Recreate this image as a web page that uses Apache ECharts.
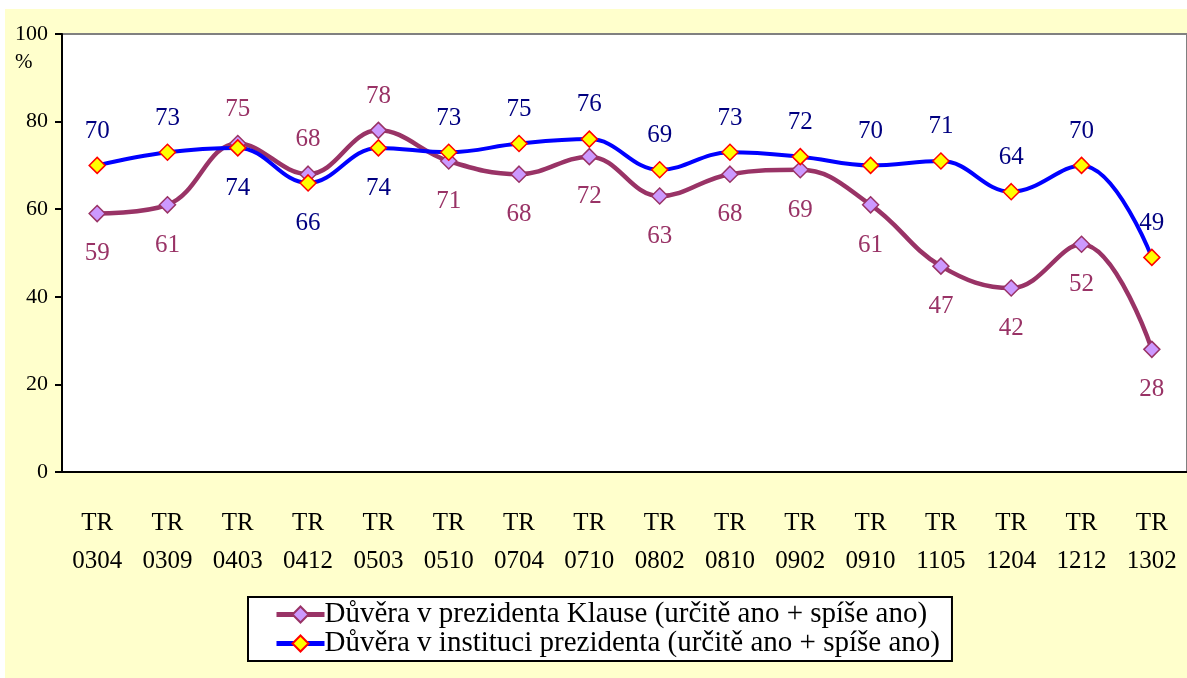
<!DOCTYPE html>
<html>
<head>
<meta charset="utf-8">
<script src="https://cdn.jsdelivr.net/npm/echarts@6/dist/echarts.min.js"></script>
<style>
  html, body { margin: 0; padding: 0; background: #fff; }
  #chart { width: 1187px; height: 678px; }
</style>
</head>
<body>
<div id="chart"></div>
<script>
// data
const categories = ['TR 0304', 'TR 0309', 'TR 0403', 'TR 0412', 'TR 0503', 'TR 0510', 'TR 0704', 'TR 0710',
  'TR 0802', 'TR 0810', 'TR 0902', 'TR 0910', 'TR 1105', 'TR 1204', 'TR 1212', 'TR 1302'];
const klausName = 'Důvěra v prezidenta Klause (určitě ano + spíše ano)';
const klausValues = [59, 61, 75, 68, 78, 71, 68, 72, 63, 68, 69, 61, 47, 42, 52, 28];
const instName = 'Důvěra v instituci prezidenta (určitě ano + spíše ano)';
const instValues = [70, 73, 74, 66, 74, 73, 75, 76, 69, 73, 72, 70, 71, 64, 70, 49];
const yTicks = [0, 20, 40, 60, 80, 100];

const serif = "'Liberation Serif', 'Times New Roman', serif";
const chart = echarts.init(document.getElementById('chart'));

// label goes above for the higher line, below for the lower one
function withLabels(values, other, higherWins) {
  return values.map(function (v, i) {
    const above = higherWins ? v >= other[i] : v > other[i];
    return { value: v, label: above ? { position: 'top', distance: 13 } : { position: 'bottom', distance: 19 } };
  });
}

chart.setOption({
  backgroundColor: '#fff',
  animation: false,
  textStyle: { fontFamily: serif },
  graphic: [
    { type: 'rect', z: -10, shape: { x: 5, y: 9, width: 1182, height: 669 }, style: { fill: '#FFFFCC' } },
    { type: 'text', left: 15, top: 52, style: { text: '%', font: '21px ' + serif, fill: '#000' } }
  ],
  grid: {
    left: 62, top: 34, width: 1131, height: 438,
    show: true, backgroundColor: '#fff', borderColor: '#808080', borderWidth: 2
  },
  legend: {
    orient: 'vertical',
    left: 248, top: 597,
    padding: [3, 12, 3, 26],
    itemGap: 0,
    itemWidth: 48, itemHeight: 20,
    backgroundColor: '#fff',
    borderColor: '#000', borderWidth: 2,
    lineStyle: { width: 5 },
    textStyle: { fontFamily: serif, fontSize: 29, lineHeight: 24, color: '#000', padding: [0, 0, 0, -5] },
    data: [klausName, instName]
  },
  xAxis: {
    type: 'category',
    data: categories,
    boundaryGap: true,
    axisLine: { lineStyle: { color: '#000', width: 2 } },
    axisTick: { length: 8, lineStyle: { color: '#000', width: 2 } },
    axisLabel: {
      interval: 0, margin: 32, fontSize: 25, lineHeight: 38, color: '#000', fontFamily: serif,
      formatter: function (v) { return v.replace(' ', '\n'); }
    },
    splitLine: { show: false }
  },
  yAxis: {
    type: 'value',
    min: yTicks[0], max: yTicks[yTicks.length - 1], interval: 20,
    axisLine: { show: true, lineStyle: { color: '#000', width: 2 } },
    axisTick: { show: true, length: 7, lineStyle: { color: '#000', width: 2 } },
    axisLabel: { margin: 14, fontSize: 22, color: '#000', fontFamily: serif },
    splitLine: { show: false }
  },
  series: [
    {
      name: klausName,
      type: 'line',
      smooth: 0.4,
      data: withLabels(klausValues, instValues, true),
      symbol: 'diamond', symbolSize: 16,
      lineStyle: { color: '#993366', width: 4.5 },
      itemStyle: { color: '#CC99FF', borderColor: '#993366', borderWidth: 1.5 },
      label: { show: true, fontSize: 25, color: '#993366', fontFamily: serif },
      z: 2
    },
    {
      name: instName,
      type: 'line',
      smooth: 0.4,
      data: withLabels(instValues, klausValues, false),
      symbol: 'diamond', symbolSize: 16,
      lineStyle: { color: '#0000FF', width: 4 },
      itemStyle: { color: '#FFFF00', borderColor: '#FF0000', borderWidth: 1.5 },
      label: { show: true, fontSize: 25, color: '#000080', fontFamily: serif },
      z: 3
    }
  ]
});
</script>
</body>
</html>
